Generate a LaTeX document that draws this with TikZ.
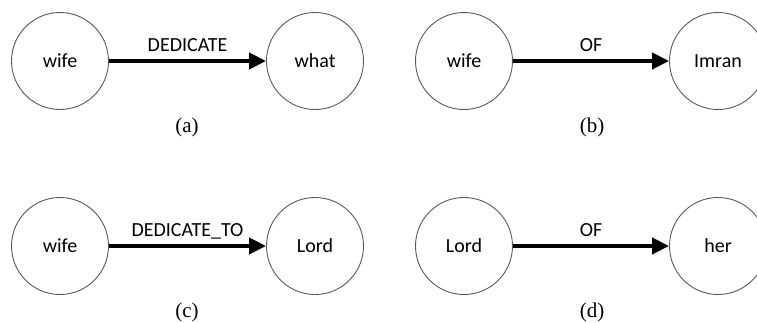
\documentclass[tikz,border=0pt]{standalone}
\usepackage{fontspec}
\setmainfont{Liberation Serif}
\newfontfamily\carlito{Carlito}
\usetikzlibrary{arrows.meta}
\begin{document}
\begin{tikzpicture}[x=1pt,y=-1pt,
  ent/.style={circle,draw=black!65,line width=0.9pt,minimum size=97pt,inner sep=0pt,font=\carlito\fontsize{20}{22}\selectfont},
  rel/.style={line width=4pt,-{Triangle[length=17pt,width=16pt]}},
  rellab/.style={midway,anchor=base,yshift=10pt,font=\carlito\fontsize{20}{22}\selectfont},
  sublabel/.style={font=\fontsize{21}{24}\selectfont}]
\useasboundingbox (0,0) rectangle (757,322);
\clip (0,0) rectangle (757,322);
% (a)
\node[ent] (a1) at (60,61) {wife};
\node[ent] (a2) at (315,61) {what};
\draw[rel] (a1) -- (a2) node[rellab] (la) {DEDICATE};
\node[sublabel] (ca) at (187,127) {(a)};
% (b)
\node[ent] (b1) at (464,61) {wife};
\node[ent] (b2) at (718,61) {Imran};
\draw[rel] (b1) -- (b2) node[rellab] (lb) {OF};
\node[sublabel] (cb) at (592,127) {(b)};
% (c)
\node[ent] (c1) at (60,246) {wife};
\node[ent] (c2) at (315,246) {Lord};
\draw[rel] (c1) -- (c2) node[rellab] (lc) {DEDICATE\_TO};
\node[sublabel] (cc) at (187,312) {(c)};
% (d)
\node[ent] (d1) at (464,246) {Lord};
\node[ent] (d2) at (718,246) {her};
\draw[rel] (d1) -- (d2) node[rellab] (ld) {OF};
\node[sublabel] (cd) at (592,312) {(d)};
\end{tikzpicture}
\end{document}
